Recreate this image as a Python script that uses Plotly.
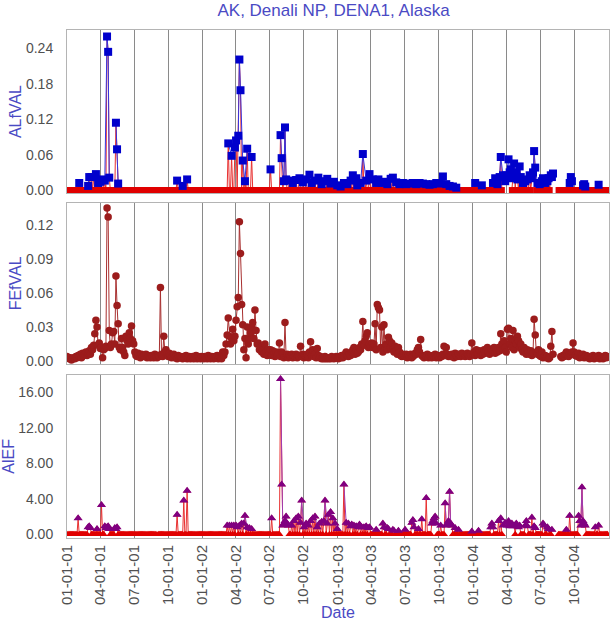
import pandas as pd
import plotly.graph_objects as go

# ---------------- data ----------------
START_DATE = "2001-01-01"
N_SAMPLES = 487          # IMPROVE 1-in-3-day schedule
STEP_DAYS = 3

# ALfVAL: segments (start sample index, consecutive sample values); 0 = below detection.
# Samples outside all segments are 0 as well.
al_segments = [
    (11, [0.012]),
    (19, [0.007, 0.022, 0, 0.022, 0, 0.022, 0, 0.027, 0, 0.012,
          0, 0.014, 0, 0.018, 0, 0.016, 0, 0.260, 0.234, 0.021]),
    (44, [0.114, 0.069, 0.011]),
    (99, [0.016]), (104, [0.007]), (108, [0.018]),
    (145, [0.079, 0, 0, 0.058, 0, 0, 0.072, 0.084, 0, 0.092,
           0.221, 0.169, 0, 0.050, 0, 0.015, 0, 0.070, 0, 0, 0, 0.056]),
    (183, [0.035]),
    (192, [0.093, 0.054, 0, 0.015, 0.106, 0.018, 0, 0, 0.016, 0,
           0, 0.012, 0, 0, 0.017, 0, 0, 0.020, 0, 0,
           0.013, 0, 0, 0.018, 0, 0, 0.026, 0, 0.012, 0,
           0, 0.016, 0, 0, 0.021, 0, 0, 0.010, 0, 0.015,
           0, 0, 0.019, 0, 0, 0.011, 0, 0, 0.014, 0,
           0, 0.008, 0, 0, 0.006, 0, 0, 0.012, 0, 0,
           0.010, 0, 0, 0.016, 0, 0.025, 0, 0, 0.020, 0.008,
           0, 0, 0.012, 0, 0.061, 0, 0, 0.016, 0, 0,
           0.027, 0, 0, 0.018, 0, 0, 0.012, 0, 0.018, 0,
           0, 0.012, 0, 0, 0.014, 0, 0.010, 0, 0, 0.019,
           0, 0.021, 0, 0, 0.013, 0, 0, 0.010, 0, 0,
           0.012, 0, 0, 0.010, 0, 0, 0.011, 0, 0, 0.012,
           0, 0, 0.010, 0, 0, 0.012, 0, 0, 0.011, 0,
           0, 0.010, 0, 0, 0.009, 0, 0, 0.010, 0, 0,
           0.012, 0, 0, 0.011, 0, 0, 0.023, 0, 0, 0.010,
           0, 0, 0.007, 0, 0, 0.006, 0, 0, 0.004]),
    (367, [0.012]), (373, [0.008]),
    (383, [0.012, 0, 0.020, 0, 0.010, 0, 0.022,
           0.056, 0, 0.025, 0, 0.015, 0.025, 0, 0.052, 0.030, 0.035,
           0, 0.020, 0.045, 0, 0.030, 0.018, 0, 0.040, 0.022, 0,
           0.012, 0, 0.015, 0, 0.018, 0, 0.025, 0, 0.020, 0.030,
           0.066, 0.038, 0, 0.012, 0, 0.010, 0, 0.015, 0.020, 0,
           0.012, 0, 0.015, 0.020, 0, 0.025, 0.022, 0.028]),
    (452, [0.012, 0.022, 0.015]),
    (464, [0.008, 0.010, 0.006]),
    (478, [0.009]),
]

# FEfVAL: every sample (None = missing)
fe_values = [
    0.004, 0.003, 0.002, 0.003, 0.001, 0.002, 0.003, 0.002, 0.004, 0.003,
    0.005, 0.004, 0.006, 0.003, 0.007, 0.005, 0.006, 0.008, 0.005, 0.007,
    0.009, 0.006, 0.012, 0.010, 0.014, 0.024, 0.036, 0.030, 0.014, 0.016,
    0.011, 0.012, 0.003, 0.010, 0.011, 0.013, 0.135, 0.127, 0.027, 0.012,
    0.015, 0.025, 0.026, 0.015, 0.075, 0.049, 0.033, 0.012, 0.010, 0.020,
    0.012, 0.008, 0.005, 0.022, 0.018, 0.015, 0.025, 0.020, 0.031, 0.018,
    0.015, 0.008, 0.005, 0.004, 0.007, 0.005, 0.003, 0.006, 0.004, 0.005,
    0.004, 0.006, 0.003, 0.005, 0.004, 0.003, 0.005, 0.004, 0.003, 0.006,
    0.004, 0.003, 0.005, 0.004, 0.065, 0.006, 0.004, 0.022, 0.008, 0.010,
    0.006, 0.004, 0.007, 0.005, 0.003, 0.004, 0.006, 0.003, 0.004, 0.002,
    0.005, 0.003, 0.004, 0.003, 0.002, 0.004, 0.003, 0.005, 0.002, 0.003,
    0.004, 0.002, 0.003, 0.004, 0.002, 0.003, 0.005, 0.002, 0.004, 0.003,
    0.002, 0.004, 0.003, 0.002, 0.004, 0.003, 0.002, 0.005, 0.003, 0.002,
    0.004, 0.003, 0.002, 0.004, 0.003, 0.005, 0.002, 0.004, 0.003, 0.002,
    0.008, 0.005, 0.008, 0.015, 0.023, 0.038, 0.022, 0.015, 0.020, 0.028,
    0.018, 0.022, 0.036, 0.048, 0.056, 0.123, 0.095, 0.050, 0.032, 0.010,
    0.020, 0.003, 0.030, 0.015, 0.020, 0.025, 0.030, 0.034, 0.020, 0.045,
    0.027, 0.015, 0.016, 0.010, 0.012, 0.008, 0.010, 0.006, 0.015, 0.008,
    0.005, 0.010, 0.008, 0.010, 0.005, 0.009, 0.006, 0.004, 0.008, 0.005,
    0.007, 0.016, 0.004, 0.008, 0.006, 0.003, 0.034, 0.004, 0.006, 0.003,
    0.005, 0.004, 0.006, 0.003, 0.005, 0.004, 0.006, 0.003, 0.005, 0.004,
    0.013, 0.004, 0.006, 0.003, 0.005, 0.004, 0.006, 0.003, 0.008, 0.017,
    0.005, 0.010, 0.004, 0.006, 0.003, 0.011, 0.005, 0.003, 0.004, 0.002,
    0.003, 0.002, 0.004, 0.002, 0.003, 0.002, 0.003, 0.002, 0.004, 0.003,
    0.002, 0.003, 0.004, 0.003, 0.002, 0.004, 0.003, 0.005, 0.003, 0.004,
    0.006, 0.008, 0.005, 0.004, 0.006, 0.005, 0.008, 0.010, 0.012, 0.006,
    0.009, 0.007, 0.008, 0.012, 0.010, 0.015, 0.035, 0.014, 0.018, 0.022,
    0.025, 0.012, 0.015, 0.013, 0.016, 0.012, 0.015, 0.033, 0.010, 0.050,
    0.047, 0.045, 0.012, 0.030, 0.008, 0.032, 0.012, 0.015, 0.010, 0.021,
    0.018, 0.012, 0.016, 0.010, 0.008, 0.013, 0.009, 0.006, 0.012, 0.008,
    0.005, 0.004, 0.006, 0.005, 0.004, 0.006, 0.003, 0.005, 0.004, 0.006,
    0.003, 0.004, 0.005, 0.007, 0.006, 0.010, 0.012, 0.008, 0.019, 0.005,
    0.004, 0.003, 0.005, 0.004, 0.006, 0.003, 0.005, 0.004, 0.003, 0.005,
    0.004, 0.006, 0.003, 0.005, 0.004, 0.003, 0.005, 0.004, 0.006, 0.013,
    0.005, 0.012, 0.006, 0.004, 0.005, 0.004, 0.006, 0.005, 0.003, 0.007,
    0.005, 0.004, 0.006, 0.005, 0.004, 0.007, 0.005, 0.006, 0.004, 0.005,
    0.007, 0.005, 0.004, 0.006, 0.016, 0.006, 0.008, 0.005, 0.010, 0.007,
    0.006, 0.009, 0.005, 0.008, 0.006, 0.010, 0.007, 0.009, 0.012, 0.008,
    0.006, 0.010, 0.008, 0.009, 0.012, 0.007, 0.010, 0.008, 0.012, 0.009,
    0.024, 0.015, 0.010, 0.018, 0.012, 0.008, 0.028, 0.029, 0.015, 0.020,
    0.012, 0.027, 0.010, 0.018, 0.015, 0.022, 0.018, 0.012, 0.015, 0.010,
    0.008, 0.012, 0.009, 0.006, 0.010, 0.008, 0.006, 0.009, 0.005, 0.007,
    0.037, 0.023, 0.008, 0.006, 0.010, 0.005, 0.004, 0.008, 0.003, 0.004,
    0.005, 0.003, 0.004, 0.002, 0.003, 0.013, 0.026, 0.006, None, None,
    None, None, None, None, 0.004, 0.003, 0.005, 0.004, 0.006, 0.008,
    0.005, 0.004, 0.007, 0.006, 0.008, 0.016, 0.008, 0.005, 0.006, 0.004,
    0.007, 0.003, 0.005, 0.004, 0.006, 0.003, 0.004, 0.005, 0.003, 0.004,
    0.002, 0.004, 0.003, 0.005, 0.002, 0.003, 0.004, 0.003, 0.005, 0.002,
    0.004, 0.003, 0.002, 0.004, 0.005, 0.003, 0.004,
]

# AlEF: segments of consecutive samples (0 = not computed / below detection)
ef_segments = [
    (10, [1.8]), (19, [0.8, 0.9, 0.7]), (27, [0.6]), (31, [3.3]),
    (34, [0.9, 0.7, 0.8, 0.9, 0.6]), (43, [0.7, 0.6, 0.8]),
    (99, [2.2]), (105, [3.8]), (108, [4.9]),
    (144, [1.0, 0, 1.0, 0, 1.0, 0, 1.0, 0, 1.0, 0.8,
           0, 1.0, 0, 1.2, 0, 1.2, 2.1, 0, 0.8, 0, 0.7]),
    (166, [0.6]), (184, [1.8]),
    (192, [17.5, 5.6, 1.0, 1.2, 1.5, 2.0, 1.2, 1.0]),
    (202, [1.0, 0, 1.5, 0, 1.8, 0, 2.0, 0, 1.3, 3.8, 0, 0.8,
           0, 1.2, 0, 1.0, 0, 1.5, 0, 1.8, 0, 2.0,
           0, 0.8, 0, 1.2, 0, 1.4, 0, 1.5, 3.8, 0,
           1.2, 2.2, 0, 2.5, 0, 1.8, 0, 1.2, 0, 0.6]),
    (249, [5.6, 0, 1.3, 0, 1.2, 0, 0.9, 1.1, 0, 1.0,
           0, 0.9, 0, 0.8, 1.1, 0, 0.8,
           0, 0.8, 0, 0.9, 0, 0.7, 0.8]),
    (278, [0.5]), (284, [1.2, 0.8]), (288, [0.7, 0.6]), (293, [0.5, 0.4]),
    (298, [0.4]), (304, [0.5]), (310, [1.3, 1.6, 0.8]),
    (316, [0.6]), (319, [1.7]), (323, [4.1]),
    (328, [1.2, 1.5, 1.8, 2.0, 1.2]), (336, [1.0]),
    (340, [3.5, 1.0, 1.2, 1.5, 4.8, 1.2, 1.0]),
    (349, [0.7]), (352, [0.5]), (364, [0.3]), (370, [0.4]),
    (381, [0.8, 1.2, 0.8]),
    (388, [1.5, 0, 1.8, 0, 1.0, 0, 1.3, 0, 1.0, 1.5, 0.9]),
    (400, [1.2, 0.9, 1.0]), (404, [1.2, 0.9, 0.8, 1.0]),
    (412, [1.0, 1.5, 0.9]), (418, [1.9]), (420, [0.9, 0.7]),
    (428, [1.2, 1.0]), (432, [0.8, 0.6]), (436, [0.5]),
    (449, [0.5]), (452, [2.1]),
    (460, [2.1, 1.5, 1.0, 5.3, 1.5, 1.2, 1.0]),
    (475, [0.8]), (478, [1.0]),
]

# missing samples in the ALfVAL / AlEF records
al_missing = [332, 392, 393, 394, 395, 396, 397, 398, 399, 437, 438, 439, 440, 441]
ef_missing = [81, 332, 392, 393, 394, 395, 396, 397, 398, 399, 437, 438, 439, 440, 441]

al_ticks = [0.0, 0.06, 0.12, 0.18, 0.24]
fe_ticks = [0.0, 0.03, 0.06, 0.09, 0.12]
ef_ticks = [0.0, 4.0, 8.0, 12.0, 16.0]

TITLE = "AK, Denali NP, DENA1, Alaska"
X_TITLE = "Date"

# ---------------- build series ----------------
dates = list(pd.date_range(START_DATE, periods=N_SAMPLES, freq=f"{STEP_DAYS}D"))


def build(segments, missing):
    full = [0.0] * N_SAMPLES
    det_x, det_y = [], []
    for s, vals in segments:
        for k, v in enumerate(vals):
            full[s + k] = v
            if v > 0:
                det_x.append(dates[s + k])
                det_y.append(v)
        det_x.append(None)   # break the line between segments
        det_y.append(None)
    full = [None if i in missing else v for i, v in enumerate(full)]
    return full, det_x, det_y


al_full, al_dx, al_dy = build(al_segments, al_missing)
ef_full, ef_dx, ef_dy = build(ef_segments, ef_missing)

# ---------------- figure ----------------
FONT = "Liberation Sans, Arial, sans-serif"
BLUE_TXT = "#4a4ac4"
TICK_COL = "#505050"

fig = go.Figure()

fig.add_trace(go.Scatter(x=dates, y=al_full, mode="lines+markers", xaxis="x", yaxis="y",
                         line=dict(color="#e83030", width=1),
                         marker=dict(symbol="square", size=6, color="#e00000"),
                         connectgaps=False, showlegend=False))
fig.add_trace(go.Scatter(x=al_dx, y=al_dy, mode="lines+markers", xaxis="x", yaxis="y",
                         line=dict(color="#3535e0", width=1),
                         marker=dict(symbol="square", size=8, color="#0000cc"),
                         connectgaps=False, showlegend=False))

fig.add_trace(go.Scatter(x=dates, y=fe_values, mode="lines+markers", xaxis="x2", yaxis="y2",
                         line=dict(color="#a83030", width=1),
                         marker=dict(symbol="circle", size=7.5, color="#9c1c1c"),
                         connectgaps=False, showlegend=False))

fig.add_trace(go.Scatter(x=dates, y=ef_full, mode="lines+markers", xaxis="x3", yaxis="y3",
                         line=dict(color="#e83030", width=1),
                         marker=dict(symbol="triangle-up", size=7, color="#e00000"),
                         connectgaps=False, showlegend=False))
fig.add_trace(go.Scatter(x=ef_dx, y=ef_dy, mode="lines+markers", xaxis="x3", yaxis="y3",
                         line=dict(color="#a03cb0", width=1),
                         marker=dict(symbol="triangle-up", size=8, color="#800080"),
                         connectgaps=False, showlegend=False))

xrange_ = ["2001-01-01", "2005-01-02"]
xcommon = dict(range=xrange_, type="date", dtick="M3", tick0="2001-01-01",
               tickformat="%m-%d-%y", tickangle=-90, showgrid=True,
               gridcolor="#8a8a8a", gridwidth=1, showline=True, mirror=True,
               linecolor="#b4b4b4", linewidth=1, ticks="", zeroline=False,
               layer="below traces", automargin=False,
               tickfont=dict(family=FONT, size=15, color=TICK_COL))
ycommon = dict(showgrid=False, showline=True, mirror=True, linecolor="#b4b4b4",
               linewidth=1, ticks="", zeroline=False, layer="below traces",
               tickformat=".2f", ticklabelstandoff=10, automargin=False,
               tickfont=dict(family=FONT, size=14, color=TICK_COL),
               title_font=dict(family=FONT, size=16, color=BLUE_TXT),
               title_standoff=0)

fig.update_layout(
    width=612, height=623,
    margin=dict(l=67, r=3, t=30, b=85),
    paper_bgcolor="white", plot_bgcolor="white",
    title=dict(text=TITLE, x=0.545, xanchor="center", y=0.984, yanchor="middle",
               font=dict(family=FONT, size=17, color=BLUE_TXT)),
    xaxis=dict(**xcommon, anchor="y", showticklabels=False),
    xaxis2=dict(**xcommon, anchor="y2", matches="x", showticklabels=False),
    xaxis3=dict(**xcommon, anchor="y3", matches="x", showticklabels=True),
    yaxis=dict(**ycommon, domain=[0.679, 1.0], range=[-0.0051, 0.271],
               tickvals=al_ticks, title_text="ALfVAL"),
    yaxis2=dict(**ycommon, domain=[0.3425, 0.660], range=[-0.0026, 0.1397],
                tickvals=fe_ticks, title_text="FEfVAL"),
    yaxis3=dict(**ycommon, domain=[0.0, 0.3215], range=[-0.42, 17.98],
                tickvals=ef_ticks, title_text="AlEF"),
    annotations=[dict(text=X_TITLE, xref="paper", yref="paper", x=0.5, y=-0.1467,
                      xanchor="center", yanchor="middle", showarrow=False,
                      font=dict(family=FONT, size=16, color=BLUE_TXT))],
)

fig.write_html("out.html")
